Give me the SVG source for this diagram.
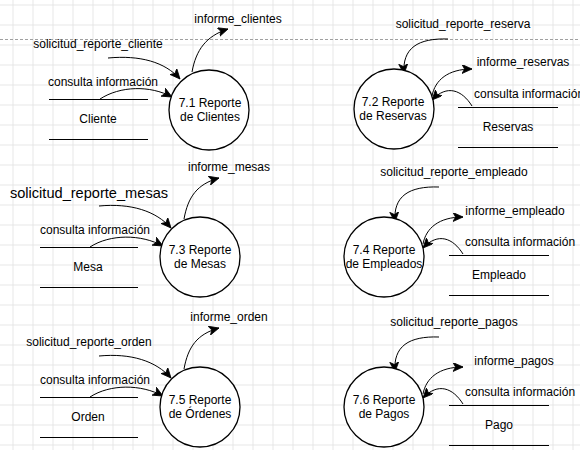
<svg xmlns="http://www.w3.org/2000/svg" width="580" height="450" viewBox="0 0 580 450">
<style>
text{font-family:"Liberation Sans",Arial,sans-serif;font-size:12px;fill:#000}
.c{text-anchor:middle}
.proc circle{fill:#fff;stroke:#000;stroke-width:1.3}
.store line{stroke:#000;stroke-width:1}
#flows path{fill:none;stroke:#000;stroke-width:1;marker-end:url(#arr)}
</style>
<defs>
<pattern id="grid" x="12.5" y="4.5" width="20" height="20" patternUnits="userSpaceOnUse">
<path d="M0.5,0 V20 M0,0.5 H20" fill="none" stroke="#e6e6e6" stroke-width="1"/>
</pattern>
<marker id="arr" markerUnits="userSpaceOnUse" markerWidth="12" markerHeight="10" refX="10" refY="4.5" orient="auto" viewBox="0 0 12 10">
<path d="M0,0 L10,4.5 L0,9 L2.5,4.5 Z" fill="#000" stroke="#000" stroke-width="0.8"/>
</marker>
</defs>
<rect width="580" height="450" fill="#fff"/>
<rect width="580" height="450" fill="url(#grid)"/>
<line x1="0" y1="39.5" x2="580" y2="39.5" stroke="#a0a0a0" stroke-width="1" stroke-dasharray="3 2"/>

<g id="flows">
<path d="M108,58 C140,55 165,62 180,79"/>
<path d="M100,99 C120,86 150,85 172,97"/>
<path d="M192,72 C196,50 206,36 228,29"/>

<path d="M448,39 C418,38 402,48 404,74"/>
<path d="M432,96 C435,80 448,69 472,69"/>
<path d="M472,106 C462,90 447,84 432,100"/>

<path d="M99,206 C131,203 156,211 171,228"/>
<path d="M90,247 C110,234 141,234 163,246"/>
<path d="M184,219 C188,197 197,184 219,178"/>

<path d="M439,187 C409,186 393,196 395,222"/>
<path d="M423,244 C426,228 439,217 463,217"/>
<path d="M463,254 C453,238 438,232 423,248"/>

<path d="M99,356 C131,353 156,361 171,378"/>
<path d="M90,397 C110,384 141,384 163,396"/>
<path d="M184,369 C188,347 197,334 219,328"/>

<path d="M439,337 C409,336 393,346 395,372"/>
<path d="M423,394 C426,378 439,367 463,367"/>
<path d="M463,404 C453,388 438,382 423,398"/>
</g>

<g id="labels">
<text class="c" x="238" y="23">informe_clientes</text>
<text class="c" x="98" y="48">solicitud_reporte_cliente</text>
<text class="c" x="103" y="86">consulta información</text>

<text class="c" x="463" y="28">solicitud_reporte_reserva</text>
<text class="c" x="523" y="66">informe_reservas</text>
<text x="474" y="98">consulta información</text>

<text class="c" x="229" y="171">informe_mesas</text>
<text class="c" x="89" y="198" style="font-size:14.6px">solicitud_reporte_mesas</text>
<text class="c" x="95" y="234">consulta información</text>

<text class="c" x="454" y="176">solicitud_reporte_empleado</text>
<text class="c" x="515" y="215">informe_empleado</text>
<text x="465" y="246">consulta información</text>

<text class="c" x="229" y="321">informe_orden</text>
<text class="c" x="89" y="346">solicitud_reporte_orden</text>
<text class="c" x="95" y="384">consulta información</text>

<text class="c" x="454" y="326">solicitud_reporte_pagos</text>
<text class="c" x="514" y="365">informe_pagos</text>
<text x="465" y="396">consulta información</text>
</g>

<g id="p71" class="proc"><circle cx="209" cy="110" r="40"/><text class="c" x="210" y="107">7.1 Reporte</text><text class="c" x="210" y="121">de Clientes</text></g>
<g id="p72" class="proc"><circle cx="394" cy="109" r="40"/><text class="c" x="393" y="106">7.2 Reporte</text><text class="c" x="393" y="120">de Reservas</text></g>
<g id="p73" class="proc"><circle cx="200" cy="257" r="40"/><text class="c" x="200" y="254">7.3 Reporte</text><text class="c" x="200" y="268">de Mesas</text></g>
<g id="p74" class="proc"><circle cx="384" cy="257" r="40"/><text class="c" x="384" y="254">7.4 Reporte</text><text class="c" x="384" y="268">de Empleados</text></g>
<g id="p75" class="proc"><circle cx="200" cy="407" r="40"/><text class="c" x="200" y="404">7.5 Reporte</text><text class="c" x="200" y="418">de Órdenes</text></g>
<g id="p76" class="proc"><circle cx="384" cy="407" r="40"/><text class="c" x="384" y="404">7.6 Reporte</text><text class="c" x="384" y="418">de Pagos</text></g>

<g id="s_cliente" class="store"><line x1="49" y1="99.5" x2="148" y2="99.5"/><line x1="49" y1="139.5" x2="148" y2="139.5"/><text class="c" x="98" y="123">Cliente</text></g>
<g id="s_reservas" class="store"><line x1="458" y1="107.5" x2="558" y2="107.5"/><line x1="458" y1="147.5" x2="558" y2="147.5"/><text class="c" x="508" y="131">Reservas</text></g>
<g id="s_mesa" class="store"><line x1="40" y1="247.5" x2="138" y2="247.5"/><line x1="40" y1="287.5" x2="138" y2="287.5"/><text class="c" x="88" y="271">Mesa</text></g>
<g id="s_empleado" class="store"><line x1="449" y1="255.5" x2="549" y2="255.5"/><line x1="449" y1="295.5" x2="549" y2="295.5"/><text class="c" x="499" y="279">Empleado</text></g>
<g id="s_orden" class="store"><line x1="40" y1="397.5" x2="138" y2="397.5"/><line x1="40" y1="437.5" x2="138" y2="437.5"/><text class="c" x="88" y="421">Orden</text></g>
<g id="s_pago" class="store"><line x1="449" y1="405.5" x2="549" y2="405.5"/><line x1="449" y1="445.5" x2="549" y2="445.5"/><text class="c" x="499" y="429">Pago</text></g>
</svg>
